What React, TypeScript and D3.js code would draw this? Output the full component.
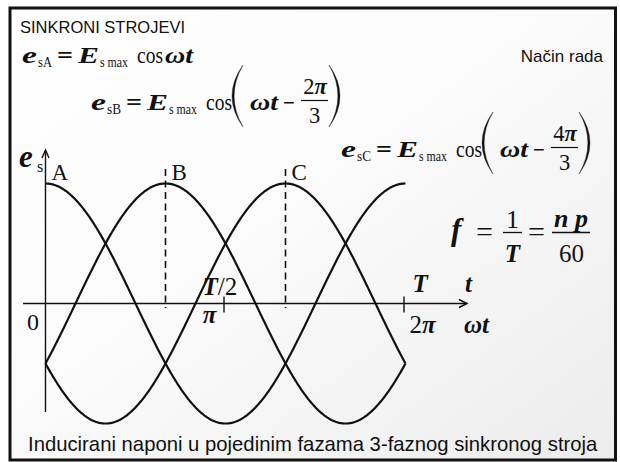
import React from "react";
import * as d3 from "d3";

// Three phases of a synchronous machine: e = Emax * cos(wt - shift)
const phaseNames = ["A", "B", "C"];
const phaseShifts = [0, (2 * Math.PI) / 3, (4 * Math.PI) / 3];
const phaseNumerators = ["", "2", "4"]; // numerator digit of the shift fraction (x pi / 3)
const amplitude = 1;

// Angle axis ticks and their time equivalents
const angleTickValues = [Math.PI, 2 * Math.PI];
const angleTickLabels = ["π", "2π"];
const timeTickLabels = ["T/2", "T"];

const SERIF = "'Liberation Serif', 'Times New Roman', serif";
const SANS = "'Liberation Sans', Arial, sans-serif";
const INK = "#111";

function Paren({ x, top, bottom, left }: { x: number; top: number; bottom: number; left: boolean }) {
  // crescent-shaped bracket, thicker in the middle
  const w = 11;
  const t = 2.1;
  const mid = (top + bottom) / 2;
  const tip = left ? x + w : x;
  const belly = left ? x : x + w;
  const s = left ? 1 : -1;
  const cOuter = 2 * belly - tip;
  const cInner = 2 * (belly + s * t) - tip;
  const d = `M${tip},${top} Q${cOuter},${mid} ${tip},${bottom} Q${cInner},${mid} ${tip},${top} Z`;
  return <path d={d} fill={INK} stroke={INK} strokeWidth={0.4} />;
}

type PieceProps = {
  x: number;
  y?: number;
  w: number;
  size: number;
  bold?: boolean;
  italic?: boolean;
  children: React.ReactNode;
};

// a text run stretched to a fixed advance width
function Piece({ x, y = 0, w, size, bold, italic, children }: PieceProps) {
  return (
    <text
      x={x}
      y={y}
      fontSize={size}
      fontWeight={bold ? "bold" : "normal"}
      fontStyle={italic ? "italic" : "normal"}
      textLength={w}
      lengthAdjust="spacingAndGlyphs"
    >
      {children}
    </text>
  );
}

function Formula({ x, y, sub, num }: { x: number; y: number; sub: string; num: string }) {
  const fs = 22.5;
  const ss = 14;
  return (
    <g transform={`translate(${x},${y})`} fontFamily={SERIF} fill={INK}>
      <Piece x={0} w={15} size={fs} bold italic>e</Piece>
      <Piece x={16} y={4} w={14} size={ss}>{`s${sub}`}</Piece>
      <Piece x={35} w={16} size={fs} bold>=</Piece>
      <Piece x={56} w={21} size={fs} bold italic>E</Piece>
      <Piece x={78} y={4} w={28} size={ss}>s max</Piece>
      <Piece x={115} w={26} size={fs}>cos</Piece>
      {num === "" ? (
        <Piece x={143} w={28} size={fs} bold italic>ωt</Piece>
      ) : (
        <>
          <Paren x={141} top={-45} bottom={17} left={true} />
          <Piece x={159} w={28} size={fs} bold italic>ωt</Piece>
          <Piece x={192} w={12} size={fs} bold>−</Piece>
          <text x={224} y={-16} fontSize={fs} textAnchor="middle">
            {num}
            <tspan fontWeight="bold" fontStyle="italic">π</tspan>
          </text>
          <line x1={210} x2={237} y1={-9.5} y2={-9.5} stroke={INK} strokeWidth={1.2} />
          <text x={223.5} y={13} fontSize={fs} textAnchor="middle">3</text>
          <Paren x={238} top={-45} bottom={17} left={false} />
        </>
      )}
    </g>
  );
}

export default function App() {
  const W = 620;
  const H = 462;

  const x = d3.scaleLinear().domain([0, 2 * Math.PI]).range([45.5, 405.5]);
  const y = d3.scaleLinear().domain([-amplitude, amplitude]).range([423.5, 183.5]);

  const samples = d3.range(0, 361).map((i) => (i / 360) * 2 * Math.PI);
  const wave = (shift: number) =>
    d3
      .line<number>()
      .x((t) => x(t))
      .y((t) => y(amplitude * Math.cos(t - shift)))
      .curve(d3.curveLinear)(samples) as string;

  const x0 = x(0);
  const yAxisZero = y(0);
  const formulaPos = [
    { x: 22, y: 63 },
    { x: 91, y: 110 },
    { x: 341, y: 157 },
  ];

  return (
    <div style={{ position: "absolute", left: 0, top: 0, width: W, height: H }}>
      <svg width={W} height={H} viewBox={`0 0 ${W} ${H}`} style={{ display: "block" }}>
        <defs>
          <linearGradient id="slideBg" x1="0" y1="0" x2="1" y2="1">
            <stop offset="0" stopColor="#ffffff" />
            <stop offset="0.45" stopColor="#fbfbfb" />
            <stop offset="1" stopColor="#ececec" />
          </linearGradient>
        </defs>
        <rect x={0} y={0} width={W} height={H} fill="#ffffff" />
        <rect x={10} y={8} width={605.5} height={452} fill="url(#slideBg)" stroke="#111" strokeWidth={3} />

        {/* headings */}
        <text x={20} y={33} fontFamily={SANS} fontSize={16.5} fill={INK}>SINKRONI STROJEVI</text>
        <text x={603} y={62} fontFamily={SANS} fontSize={17} fill={INK} textAnchor="end">Način rada</text>

        {/* phase voltage equations */}
        {phaseNames.map((n, i) => (
          <Formula key={n} x={formulaPos[i].x} y={formulaPos[i].y} sub={n} num={phaseNumerators[i]} />
        ))}

        {/* f = 1/T = n p / 60 */}
        <g fontFamily={SERIF} fill={INK}>
          <text x={451} y={240} fontSize={31} fontWeight="bold" fontStyle="italic">f</text>
          <text x={476} y={241} fontSize={27} textLength={17} lengthAdjust="spacingAndGlyphs">=</text>
          <text x={512.5} y={228} fontSize={25} textAnchor="middle">1</text>
          <line x1={503} x2={522} y1={232.5} y2={232.5} stroke={INK} strokeWidth={1.3} />
          <text x={512.5} y={262} fontSize={25} fontWeight="bold" fontStyle="italic" textAnchor="middle">T</text>
          <text x={528} y={241} fontSize={27} textLength={17} lengthAdjust="spacingAndGlyphs">=</text>
          <text x={571} y={227} fontSize={26} fontWeight="bold" fontStyle="italic" textAnchor="middle">n p</text>
          <line x1={552} x2={590} y1={232.5} y2={232.5} stroke={INK} strokeWidth={1.3} />
          <text x={571.5} y={262} fontSize={25} textAnchor="middle">60</text>
        </g>

        {/* axes */}
        <g stroke={INK} strokeWidth={1.4} fill="none">
          <line x1={23} x2={467} y1={yAxisZero} y2={yAxisZero} />
          <polyline points={`459,${yAxisZero - 4} 467,${yAxisZero} 459,${yAxisZero + 4}`} />
          <line x1={x0} x2={x0} y1={150} y2={412} />
          <polyline points={`${x0 - 3.5},158 ${x0},150 ${x0 + 3.5},158`} />
          {angleTickValues.map((v) => (
            <line key={v} x1={x(v) - 1.5} x2={x(v) - 1.5} y1={yAxisZero - 7} y2={yAxisZero + 9} />
          ))}
        </g>

        {/* peak markers of phases B and C */}
        {phaseShifts.slice(1).map((s) => (
          <line key={s} x1={x(s)} x2={x(s)} y1={169} y2={308} stroke={INK} strokeWidth={1.6} strokeDasharray="7,4.5" />
        ))}

        {/* the three phase voltages */}
        {phaseShifts.map((s, i) => (
          <path key={phaseNames[i]} d={wave(s)} fill="none" stroke={INK} strokeWidth={2.2} />
        ))}

        {/* phase labels */}
        {phaseShifts.map((s, i) => (
          <text key={phaseNames[i]} x={x(s) + 6} y={180} fontFamily={SERIF} fontSize={23} fill={INK}>
            {phaseNames[i]}
          </text>
        ))}

        {/* axis labels */}
        <g fontFamily={SERIF} fill={INK}>
          <text x={19} y={167} fontSize={31} fontWeight="bold" fontStyle="italic">e</text>
          <text x={37} y={172} fontSize={16}>s</text>
          <text x={27} y={330} fontSize={24}>0</text>

          {/* pi tick */}
          <text x={x(angleTickValues[0]) - 23} y={295} fontSize={25}>
            <tspan fontWeight="bold" fontStyle="italic">{timeTickLabels[0].split("/")[0]}</tspan>
            <tspan>{"/" + timeTickLabels[0].split("/")[1]}</tspan>
          </text>
          <text x={x(angleTickValues[0]) - 9} y={323} fontSize={25} fontWeight="bold" fontStyle="italic" textAnchor="end">
            {angleTickLabels[0]}
          </text>

          {/* 2 pi tick */}
          <text x={x(angleTickValues[1]) + 7} y={292} fontSize={25} fontWeight="bold" fontStyle="italic">
            {timeTickLabels[1]}
          </text>
          <text x={x(angleTickValues[1]) + 4} y={333} fontSize={25}>
            {angleTickLabels[1].slice(0, 1)}
            <tspan fontWeight="bold" fontStyle="italic">{angleTickLabels[1].slice(1)}</tspan>
          </text>

          <text x={465} y={292} fontSize={25} fontWeight="bold" fontStyle="italic">t</text>
          <text x={464} y={333} fontSize={25} fontWeight="bold" fontStyle="italic">ωt</text>
        </g>

        {/* caption */}
        <text x={28} y={451} fontFamily={SANS} fontSize={20.3} fill={INK}>
          Inducirani naponi u pojedinim fazama 3-faznog sinkronog stroja
        </text>
      </svg>
    </div>
  );
}
